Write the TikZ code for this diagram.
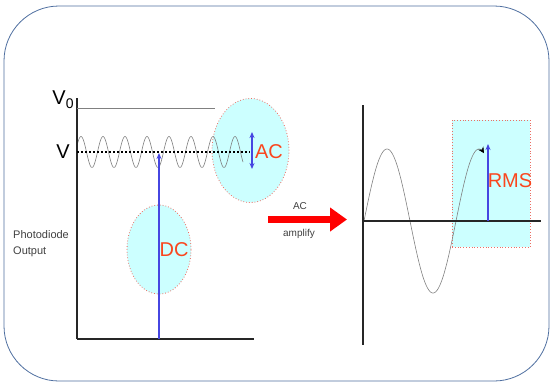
\documentclass[tikz,border=0pt]{standalone}
\usepackage{fontspec}
\setmainfont{Liberation Sans}
\usepackage{tikz}
\usetikzlibrary{positioning,arrows.meta,shapes.geometric}

\definecolor{frameblue}{RGB}{79,111,160}
\definecolor{markblue}{RGB}{70,70,225}
\definecolor{labelred}{RGB}{250,70,30}
\definecolor{bubblecyan}{RGB}{204,255,255}
\definecolor{rimred}{RGB}{235,110,100}

\begin{document}
\begin{tikzpicture}[x=1pt, y=-1pt,
  bubble/.style={ellipse, fill=bubblecyan, draw=rimred, line width=0.8pt, dotted, inner sep=0pt},
  axis/.style={black!85, line width=1.4pt},
  wave/.style={gray, line width=0.6pt},
  marker/.style={-{Stealth[length=6pt,width=5pt]}, line width=1.5pt, markblue},
  big/.style={font=\fontsize{20}{20}\selectfont, text=labelred, inner sep=0pt},
  small/.style={font=\fontsize{10}{12}\selectfont, text=black!75, align=left, inner sep=0pt},
]
\useasboundingbox (0,0) rectangle (553,384);
\draw[frameblue, line width=0.8pt, rounded corners=55pt] (4,6) rectangle (549,381);

% left graph: photodiode output
\node[bubble, minimum width=77pt, minimum height=104pt] (acbub) at (250.5,150.5) {};
\node[bubble, minimum width=64pt, minimum height=89pt] (dcbub) at (159,249.5) {};
\draw[wave] plot[domain=77:243, samples=250] (\x, {152-15.5*cos(16.3636*(\x-81))});
\coordinate (o) at (77,339);
\coordinate (top) at (77,98);
\coordinate (xend) at (254,339);
\draw[axis] (top) -- (o);
\draw[axis, line width=2pt] (o) -- (xend);
\draw[gray, line width=0.9pt] (77,108) -- (215,108);
\draw[black, line width=2pt, dash pattern=on 2pt off 2pt] (77,152) -- (250,152);
\coordinate (dcfoot) at (159,339);
\coordinate (dchead) at (159,153);
\draw[marker] (dcfoot) -- (dchead);
\coordinate (aclo) at (252,169);
\coordinate (achi) at (252,132);
\draw[marker, {Stealth[length=6pt,width=5pt]}-{Stealth[length=6pt,width=5pt]}] (aclo) -- (achi);
\node[font=\fontsize{20}{20}\selectfont, inner sep=0pt] (v0) at (63,100) {V\raisebox{-4pt}{\fontsize{14}{14}\selectfont 0}};
\node[font=\fontsize{20}{20}\selectfont, inner sep=0pt] (v) at (63,152) {V};
\node[big] (ac) at (269,152) {AC};
\node[big] (dc) at (174,250) {DC};
\node[small, font=\fontsize{11}{16}\selectfont, anchor=west] (pd) at (13,244) {Photodiode\\Output};

% amplifier arrow
\coordinate (ampin) at (268,219.5);
\coordinate (ampout) at (347,219.5);
\draw[red, line width=7pt, -{Triangle[length=17pt,width=23pt]}] (ampin) -- (ampout);
\node[small] (acamp) at (300,206) {AC};
\node[small] (amp) at (299,234) {amplify};

% right graph: amplified signal
\node[fill=bubblecyan, draw=rimred, line width=0.8pt, dotted, minimum width=78pt, minimum height=127pt, inner sep=0pt]
  (rmsbox) at (491,183.5) {};
\draw[wave, -{Stealth[length=6pt,width=6pt,black]}] plot[domain=364:484, samples=250]
  (\x, {221-72*sin(3.91304*(\x-364))});
\coordinate (ro) at (363,221);
\draw[axis] (363,105) -- (363,345);
\draw[axis, line width=2pt] (ro) -- (541,221);
\coordinate (rmsfoot) at (488,221);
\coordinate (rmshead) at (488,144);
\draw[marker] (rmsfoot) -- (rmshead);
\node[big] (rms) at (510,181) {RMS};
\end{tikzpicture}
\end{document}
